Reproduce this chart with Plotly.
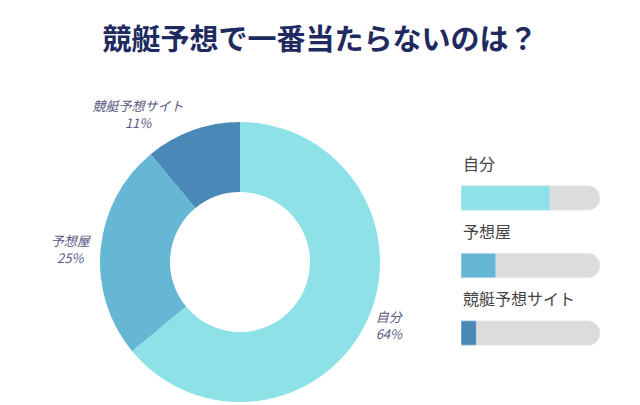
import plotly.graph_objects as go

labels = ["自分", "予想屋", "競艇予想サイト"]
values = [64, 25, 11]
colors = ["#8ee2e7", "#65b7d4", "#4a88b7"]
font = "Noto Sans CJK JP"

W, H, o = 640, 405, 8

fig = go.Figure()
fig.add_trace(go.Pie(
    labels=labels, values=values, hole=0.5, sort=False, direction="clockwise",
    rotation=0, marker=dict(colors=colors, line=dict(width=0)),
    textposition="outside", texttemplate="<i>%{label}<br>%{percent:.0%}</i>",
    textfont=dict(family=font, size=13, color="#5a5a86"),
    domain=dict(x=[(100-o)/W, (380-o)/W], y=[(3+o)/H, (283+o)/H]),
    showlegend=False, hoverinfo="skip"))

fig.add_trace(go.Bar(x=[100]*3, y=labels, orientation="h", marker=dict(color="#dcdcdc"),
                     width=0.36, xaxis="x2", yaxis="y2", showlegend=False, hoverinfo="skip"))
fig.add_trace(go.Bar(x=values, y=labels, orientation="h", marker=dict(color=colors),
                     width=0.36, xaxis="x2", yaxis="y2", showlegend=False, hoverinfo="skip"))

for i, lab in enumerate(labels):
    fig.add_annotation(text=lab, x=0, xref="x2", xanchor="left", y=i, yref="y2",
                       yshift=35, showarrow=False,
                       font=dict(family=font, size=16, color="#444444"))

fig.update_layout(
    width=W, height=H, margin=dict(l=0, r=0, t=0, b=0),
    paper_bgcolor="white", plot_bgcolor="white", barmode="overlay", barcornerradius=12,
    title=dict(text="<b>競艇予想で一番当たらないのは？</b>", x=(320-o)/W, xanchor="center",
               y=1-(40-o)/H, yanchor="middle",
               font=dict(family=font, size=29, color="#1f2a60")),
    xaxis2=dict(domain=[(461-o)/W, (600-o)/W], range=[0, 100], visible=False, fixedrange=True),
    yaxis2=dict(domain=[0.0944+o/H, 0.5944+o/H], range=[2.5, -0.5], visible=False, anchor="x2"),
)
fig.write_html("out.html")
